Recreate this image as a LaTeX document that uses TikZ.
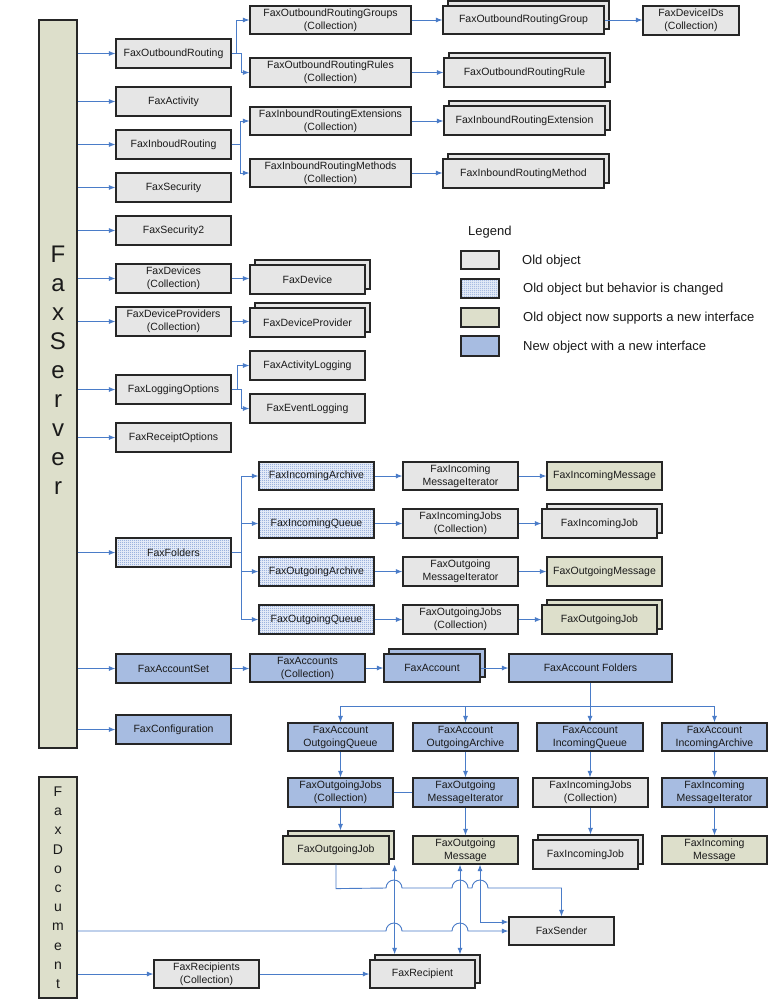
\documentclass[tikz,border=0pt]{standalone}
\usepackage{fontspec}
\setmainfont{Liberation Sans}
\usetikzlibrary{arrows.meta,patterns,calc}
\pgfdeclarepatternformonly{finedots}{\pgfpointorigin}{\pgfpoint{2pt}{2pt}}{\pgfpoint{2pt}{2pt}}{\pgfpathcircle{\pgfpoint{1pt}{1pt}}{0.55pt}\pgfusepath{fill}}
\definecolor{gfill}{HTML}{E6E6E6}
\definecolor{greenfill}{HTML}{DDDFCB}
\definecolor{bluefill}{HTML}{A7BCE1}
\definecolor{dotbg}{HTML}{E4EBF7}
\definecolor{dotfg}{HTML}{3A68BC}
\definecolor{linec}{HTML}{4A7CC8}
\definecolor{border}{HTML}{262626}
\definecolor{txt}{HTML}{1A1A1A}
\tikzset{
 box/.style={draw=border, line width=1.2pt, rectangle, inner sep=1pt, align=center, font=\fontsize{10.5}{13}\selectfont, text=txt},
 gbox/.style={box, fill=gfill},
 vbox/.style={box, fill=greenfill},
 bbox/.style={box, fill=bluefill},
 dbox/.style={box, fill=dotbg, postaction={pattern=finedots, pattern color=dotfg}, postaction={draw=border, line width=1.2pt}},
 arr/.style={draw=linec, line width=0.9pt, -{Latex[length=6.5pt,width=5pt]}},
 arrb/.style={draw=linec, line width=0.9pt, {Latex[length=6.5pt,width=5pt]}-{Latex[length=6.5pt,width=5pt]}},
 link/.style={draw=linec, line width=0.9pt},
 lgtext/.style={anchor=base west, inner sep=0pt, font=\fontsize{13}{15}\selectfont, text=txt},
}
\newcommand\mybx[7]{\node[#1, minimum width={(#5-#3)*1pt}, minimum height={(#6-#4)*1pt}] (#2) at ({(#3+#5)/2},{(#4+#6)/2}) {#7};}
\newcommand\mystk[7]{\node[#1, minimum width={(#5-#3)*1pt}, minimum height={(#6-#4)*1pt}] (#2back) at ({(#3+#5)/2+5},{(#4+#6)/2-5}) {};\mybx{#1}{#2}{#3}{#4}{#5}{#6}{#7}}
\begin{document}
\begin{tikzpicture}[x=1pt,y=-1pt]
\fill[white] (0,0) rectangle (768,999);
\useasboundingbox (0,0) rectangle (768,999);
% big boxes
\mybx{vbox}{fsrv}{39}{20}{77}{748}{}
\node[font=\fontsize{24}{29}\selectfont, align=center, inner sep=0pt, anchor=north, text=txt] (fsrvtxt) at (58,245.4) {F\\a\\x\\S\\e\\r\\v\\e\\r};
\mybx{vbox}{fdoc}{39}{777}{77}{998}{}
\node[font=\fontsize{14}{19.2}\selectfont, align=center, inner sep=0pt, anchor=north, text=txt] (fdoctxt) at (58,786.7) {F\\a\\x\\D\\o\\c\\u\\m\\e\\n\\t};
% column 1
\mybx{gbox}{fsOut}{116}{39}{231}{68}{FaxOutboundRouting}
\mybx{gbox}{fsAct}{116}{87}{231}{116}{FaxActivity}
\mybx{gbox}{fsIn}{116}{130}{231}{159}{FaxInboudRouting}
\mybx{gbox}{fsSec}{116}{173}{231}{202}{FaxSecurity}
\mybx{gbox}{fsSec2}{116}{216}{231}{245}{FaxSecurity2}
\mybx{gbox}{fsDev}{116}{264}{231}{293}{FaxDevices\\(Collection)}
\mybx{gbox}{fsDP}{116}{307}{231}{336}{FaxDeviceProviders\\(Collection)}
\mybx{gbox}{fsLog}{116}{375}{231}{404}{FaxLoggingOptions}
\mybx{gbox}{fsRec}{116}{423}{231}{452}{FaxReceiptOptions}
\mybx{dbox}{fsFold}{116}{538}{231}{567}{FaxFolders}
\mybx{bbox}{fsAS}{116}{654}{231}{683}{FaxAccountSet}
\mybx{bbox}{fsConf}{116}{715}{231}{744}{FaxConfiguration}
% routing
\mybx{gbox}{orgs}{250}{6}{411}{34}{FaxOutboundRoutingGroups\\(Collection)}
\mybx{gbox}{orrs}{250}{58}{411}{87}{FaxOutboundRoutingRules\\(Collection)}
\mybx{gbox}{ires}{250}{107}{411}{135}{FaxInboundRoutingExtensions\\(Collection)}
\mybx{gbox}{irms}{250}{159}{411}{187}{FaxInboundRoutingMethods\\(Collection)}
\mystk{gbox}{org}{443}{6}{604}{34}{FaxOutboundRoutingGroup}
\mystk{gbox}{orr}{444}{58}{605}{87}{FaxOutboundRoutingRule}
\mystk{gbox}{ire}{444}{106}{605}{135}{FaxInboundRoutingExtension}
\mystk{gbox}{irm}{443}{159}{604}{188}{FaxInboundRoutingMethod}
\mybx{gbox}{dids}{643}{6}{739}{35}{FaxDeviceIDs\\(Collection)}
% devices, logging
\mystk{gbox}{dev}{250}{265}{365}{294}{FaxDevice}
\mystk{gbox}{dp}{250}{308}{365}{337}{FaxDeviceProvider}
\mybx{gbox}{actlog}{250}{351}{365}{380}{FaxActivityLogging}
\mybx{gbox}{evlog}{250}{394}{365}{423}{FaxEventLogging}
% folders
\mybx{dbox}{ia}{259}{462}{374}{490}{FaxIncomingArchive}
\mybx{dbox}{iq}{259}{509}{374}{538}{FaxIncomingQueue}
\mybx{dbox}{oa}{259}{557}{374}{586}{FaxOutgoingArchive}
\mybx{dbox}{oq}{259}{605}{374}{634}{FaxOutgoingQueue}
\mybx{gbox}{imi}{403}{462}{518}{490}{FaxIncoming\\MessageIterator}
\mybx{gbox}{ijs}{403}{509}{518}{538}{FaxIncomingJobs\\(Collection)}
\mybx{gbox}{omi}{403}{557}{518}{586}{FaxOutgoing\\MessageIterator}
\mybx{gbox}{ojs}{403}{605}{518}{634}{FaxOutgoingJobs\\(Collection)}
\mybx{vbox}{im}{547}{462}{662}{490}{FaxIncomingMessage}
\mystk{gbox}{ij}{542}{509}{657}{538}{FaxIncomingJob}
\mybx{vbox}{om}{547}{557}{662}{586}{FaxOutgoingMessage}
\mystk{vbox}{oj}{542}{605}{657}{634}{FaxOutgoingJob}
% accounts
\mybx{bbox}{accs}{250}{654}{365}{682}{FaxAccounts\\(Collection)}
\mystk{bbox}{acc}{384}{654}{480}{682}{FaxAccount}
\mybx{bbox}{accf}{509}{654}{672}{682}{FaxAccount Folders}
\mybx{bbox}{aoq}{288}{723}{393}{751}{FaxAccount\\OutgoingQueue}
\mybx{bbox}{aoa}{413}{723}{518}{751}{FaxAccount\\OutgoingArchive}
\mybx{bbox}{aiq}{537}{723}{643}{751}{FaxAccount\\IncomingQueue}
\mybx{bbox}{aia}{662}{723}{767}{751}{FaxAccount\\IncomingArchive}
\mybx{bbox}{aojs}{288}{778}{393}{807}{FaxOutgoingJobs\\(Collection)}
\mybx{bbox}{aomi}{413}{778}{518}{807}{FaxOutgoing\\MessageIterator}
\mybx{gbox}{aijs}{533}{778}{648}{807}{FaxIncomingJobs\\(Collection)}
\mybx{bbox}{aimi}{662}{778}{767}{807}{FaxIncoming\\MessageIterator}
\mystk{vbox}{aoj}{283}{836}{389}{864}{FaxOutgoingJob}
\mybx{vbox}{aom}{413}{836}{518}{864}{FaxOutgoing\\Message}
\mystk{gbox}{aij}{533}{840}{638}{869}{FaxIncomingJob}
\mybx{vbox}{aim}{662}{836}{767}{864}{FaxIncoming\\Message}
% bottom
\mybx{gbox}{fsend}{509}{917}{614}{945}{FaxSender}
\mybx{gbox}{frecs}{154}{960}{259}{988}{FaxRecipients\\(Collection)}
\mystk{gbox}{frec}{370}{960}{475}{988}{FaxRecipient}
% legend
\node[lgtext] (lgtitle) at (468,235.6) {Legend};
\mybx{gbox}{lg1}{461}{251}{499}{269}{}
\mybx{dbox}{lg2}{461}{279}{499}{298}{}
\mybx{vbox}{lg3}{461}{308}{499}{327}{}
\mybx{bbox}{lg4}{461}{336}{499}{356}{}
\node[lgtext] (lgt1) at (522,264.6) {Old object};
\node[lgtext] (lgt2) at (523,292.6) {Old object but behavior is changed};
\node[lgtext] (lgt3) at (523,321.6) {Old object now supports a new interface};
\node[lgtext] (lgt4) at (523,350.6) {New object with a new interface};
% connectors
\foreach \n in {fsOut,fsAct,fsIn,fsSec,fsSec2,fsDev,fsDP,fsLog,fsRec,fsFold,fsAS,fsConf}
  \draw[arr] (fsrv.east |- \n.west) -- (\n.west);
\draw[arr] (fsOut.east) -- ++(5,0) |- (orgs.west);
\draw[arr] (fsOut.east) -- ++(10,0) |- (orrs.west);
\draw[arr] (fsIn.east) -- ++(9,0) |- (ires.west);
\draw[arr] (fsIn.east) -- ++(9,0) |- (irms.west);
\draw[arr] (orgs.east) -- (orgs.east -| org.west);
\draw[arr] (orrs.east) -- (orrs.east -| orr.west);
\draw[arr] (ires.east) -- (ires.east -| ire.west);
\draw[arr] (irms.east) -- (irms.east -| irm.west);
\draw[arr] (org.east) -- (org.east -| dids.west);
\draw[arr] (fsDev.east) -- (fsDev.east -| dev.west);
\draw[arr] (fsDP.east) -- (fsDP.east -| dp.west);
\draw[arr] (fsLog.east) -- ++(6,0) |- (actlog.west);
\draw[arr] (fsLog.east) -- ++(10,0) |- (evlog.west);
\foreach \n in {ia,iq,oa,oq}
  \draw[arr] (fsFold.east) -- ++(10,0) |- (\n.west);
\draw[arr] (ia.east) -- (ia.east -| imi.west);
\draw[arr] (iq.east) -- (iq.east -| ijs.west);
\draw[arr] (oa.east) -- (oa.east -| omi.west);
\draw[arr] (oq.east) -- (oq.east -| ojs.west);
\draw[arr] (imi.east) -- (imi.east -| im.west);
\draw[arr] (ijs.east) -- (ijs.east -| ij.west);
\draw[arr] (omi.east) -- (omi.east -| om.west);
\draw[arr] (ojs.east) -- (ojs.east -| oj.west);
\draw[arr] (fsAS.east) -- (fsAS.east -| accs.west);
\draw[arr] (accs.east) -- (accs.east -| acc.west);
\draw[arr] (acc.east) -- (acc.east -| accf.west);
\draw[link] (accf.south) -- ++(0,24) coordinate (hub);
\foreach \n in {aoq,aoa,aiq,aia}
  \draw[arr] (hub) -| (\n.north);
\draw[arr] (aoq.south) -- (aojs.north);
\draw[arr] (aoa.south) -- (aomi.north);
\draw[arr] (aiq.south) -- (aiq.south |- aijs.north);
\draw[arr] (aia.south) -- (aimi.north);
\draw[arr] (aojs.south) -- (aojs.south |- aojback.north);
\draw[arr] (aomi.south) -- (aom.north);
\draw[arr] (aijs.south) -- (aijs.south |- aijback.north);
\draw[arr] (aimi.south) -- (aim.north);
\draw[link] (aojs.east) -- (aomi.west);
% bottom connectors
\draw[arrb] (aojback.east |- aoj.south) -- (aojback.east |- frecback.north);
\draw[arrb] ([xshift=-5.5pt]aom.south) -- ([xshift=-5.5pt]aom.south |- frecback.north);
\draw[arrb] ([xshift=14.5pt]aom.south) |- ([yshift=9pt]fsend.west);
\draw[arr] (aoj.south) -- ++(0,24) -- (386,888) arc[start angle=180,end angle=0,radius=8pt] -- (452,888) arc[start angle=180,end angle=0,radius=8pt] -- (472,888) arc[start angle=180,end angle=0,radius=8pt] -| (fsend.north);
\draw[arr] (fdoc.east |- fsend.west) -- (386,931) arc[start angle=180,end angle=0,radius=8pt] -- (452,931) arc[start angle=180,end angle=0,radius=8pt] -- (fsend.west);
\draw[arr] (fdoc.east |- frecs.west) -- (frecs.west);
\draw[arr] (frecs.east) -- (frecs.east -| frec.west);
\end{tikzpicture}
\end{document}
